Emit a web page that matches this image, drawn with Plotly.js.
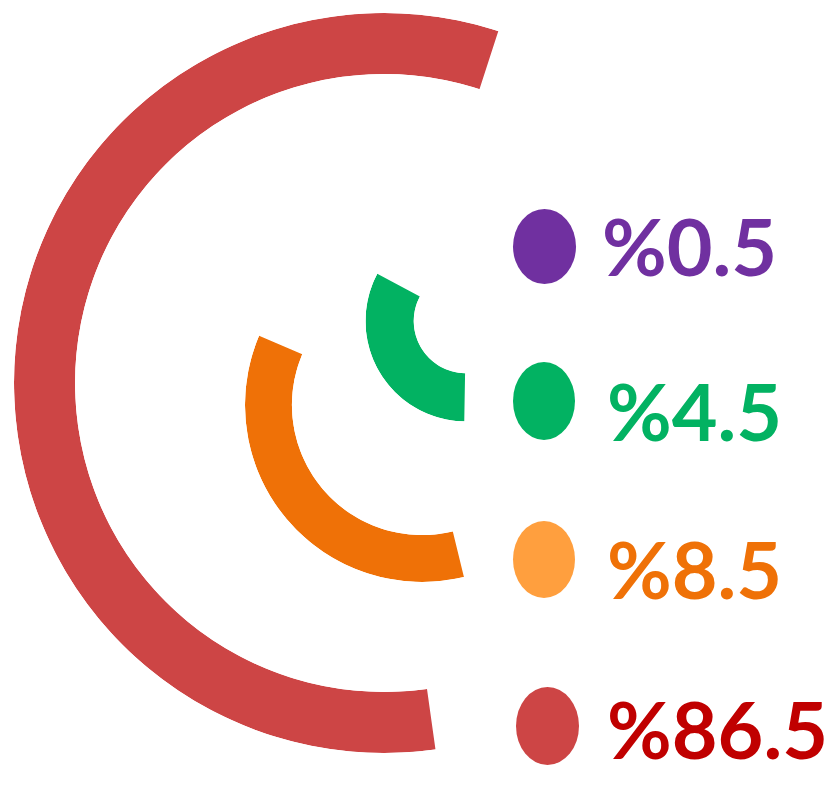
<!DOCTYPE html>
<html>
<head>
<meta charset="utf-8">
<script src="https://cdn.plot.ly/plotly-3.0.1.min.js"></script>
<style>html,body{margin:0;padding:0;background:#ffffff;}</style>
</head>
<body>
<div id="chart" style="width:833px;height:790px;"></div>
<script>
// ---- data ----
const labels = ['%0.5', '%4.5', '%8.5', '%86.5'];
const shares = [0.5, 4.5, 8.5, 86.5];
// arc extent of each series, degrees counter-clockwise from east (purple arc is not visible)
const arcStartDeg = [null, 152, 157, 72];
const arcEndDeg   = [null, 269, 283.7, 278];

// ---- styles / layout ----
const arcColors   = ['#7030A0', '#02B262', '#EF7107', '#CD4545'];
const dotColors   = ['#7030A0', '#02B262', '#FF9F3E', '#CD4545'];
const textColors  = ['#7030A0', '#02B262', '#EF7107', '#C00000'];
// arc centre (px), outer radius (px), hole fraction
const arcCx   = [null, 466, 422, 384];
const arcCy   = [null, 321, 405, 383];
const arcR    = [null, 100.5, 177, 370];
const arcHole = [null, 0.52, 0.735, 0.835];
// legend dot boxes (px) and text positions (px)
const dotX0 = [513, 513, 513, 516], dotX1 = [576, 575, 575, 579];
const dotY0 = [209, 362, 521, 687], dotY1 = [284, 440, 598, 765];
const txtX  = [600, 605, 605, 605];
const txtY  = [245, 410, 568, 728];
const fontSize = 79;

const W = 833, H = 790;
const px = x => x / W;
const py = y => 1 - y / H;

const traces = [];
const layout = {
  width: W, height: H,
  margin: {l: 0, r: 0, t: 0, b: 0},
  paper_bgcolor: '#ffffff',
  plot_bgcolor: '#ffffff',
  showlegend: false,
  shapes: [],
  annotations: []
};

let k = 0;
for (let i = labels.length - 1; i >= 0; i--) {
  if (arcStartDeg[i] === null) continue;
  k += 1;
  const name = k === 1 ? 'polar' : 'polar' + k;
  const span = arcEndDeg[i] - arcStartDeg[i];
  traces.push({
    type: 'barpolar',
    subplot: name,
    name: labels[i],
    theta: [arcStartDeg[i] + span / 2],
    width: [span],
    r: [1],
    base: [0],
    marker: {color: arcColors[i], line: {width: 0}},
    hoverinfo: 'skip'
  });
  layout[name] = {
    domain: {
      x: [px(arcCx[i] - arcR[i]), px(arcCx[i] + arcR[i])],
      y: [py(arcCy[i] + arcR[i]), py(arcCy[i] - arcR[i])]
    },
    hole: arcHole[i],
    bgcolor: 'rgba(0,0,0,0)',
    radialaxis: {visible: false, range: [0, 1]},
    angularaxis: {visible: false, direction: 'counterclockwise', rotation: 0}
  };
}

for (let i = 0; i < labels.length; i++) {
  layout.shapes.push({
    type: 'circle', xref: 'paper', yref: 'paper',
    x0: px(dotX0[i]), x1: px(dotX1[i]),
    y0: py(dotY1[i]), y1: py(dotY0[i]),
    fillcolor: dotColors[i], line: {width: 0}
  });
  layout.annotations.push({
    xref: 'paper', yref: 'paper',
    x: px(txtX[i]), y: py(txtY[i]),
    xanchor: 'left', yanchor: 'middle',
    text: '<b>' + labels[i] + '</b>',
    showarrow: false,
    font: {family: 'Lato, sans-serif', size: fontSize, color: textColors[i]}
  });
}

Plotly.newPlot('chart', traces, layout, {staticPlot: true, displayModeBar: false});
</script>
</body>
</html>
